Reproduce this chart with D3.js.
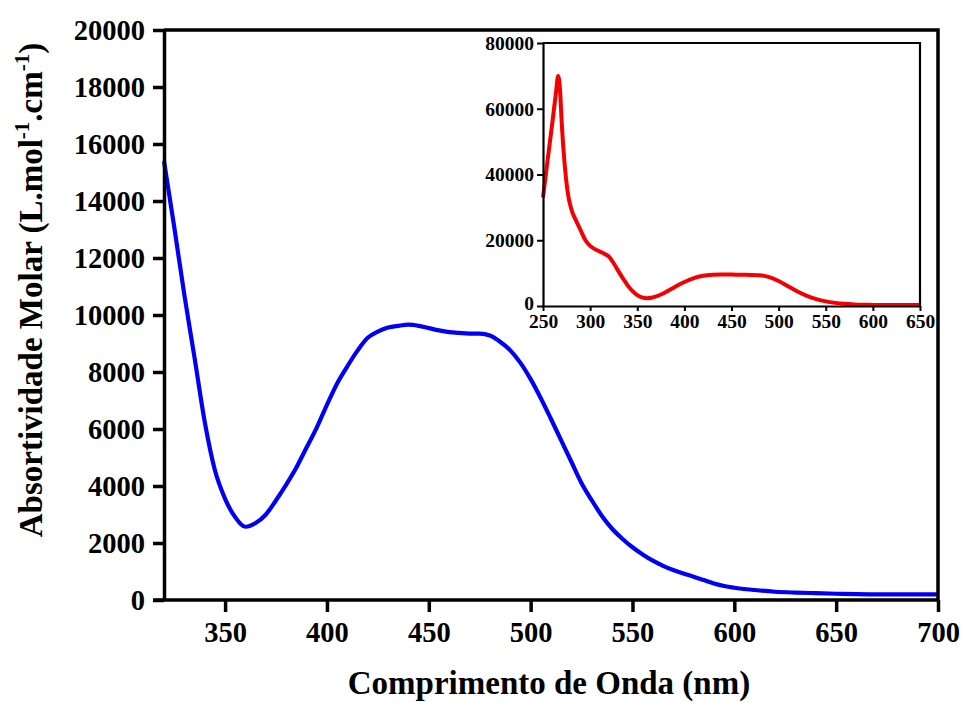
<!DOCTYPE html>
<html>
<head>
<meta charset="utf-8">
<script src="https://cdn.jsdelivr.net/npm/d3@7"></script>
<style>
  html, body { margin: 0; padding: 0; background: #fff; }
  svg { display: block; }
  text { font-family: "Liberation Serif", "Times New Roman", serif; font-weight: bold; fill: #000; }
</style>
</head>
<body>
<svg id="chart" width="963" height="702"></svg>
<script>
// Molar absorptivity spectrum, visible range (nm, L.mol-1.cm-1)
const mainWavelength = [320,325,330,335,340,345,350,355,360,365,370,375,380,385,390,395,400,405,410,415,420,425,430,435,440,445,450,455,460,465,470,475,480,485,490,495,500,505,510,515,520,525,530,535,540,545,550,555,560,565,570,575,580,585,590,595,600,610,620,630,640,650,660,670,680,690,700];
const mainAbsorptivity = [15400,13100,10700,8500,6250,4550,3550,2900,2570,2700,3000,3500,4050,4650,5350,6050,6850,7600,8200,8750,9200,9420,9560,9620,9660,9620,9540,9460,9400,9370,9350,9350,9280,9060,8760,8320,7750,7080,6350,5600,4850,4100,3500,2950,2500,2150,1850,1600,1380,1200,1050,930,820,700,580,490,430,350,290,260,240,220,205,200,200,200,200];

// Full spectrum 250-650 nm shown in the inset
const insetWavelength = [250,255,260,264,266,268,270,273,276,280,285,290,295,300,305,310,315,320,325,330,335,340,345,350,355,360,365,370,375,380,385,390,395,400,410,420,430,440,450,460,470,480,490,500,510,520,530,540,550,560,570,580,590,600,620,650];
const insetAbsorptivity = [33000,44600,56000,65500,70000,66000,55000,43000,35000,29500,26000,23000,20000,18300,17300,16600,15900,15000,13000,10600,8300,6200,4500,3300,2600,2350,2500,2900,3500,4200,5000,5800,6600,7300,8500,9200,9500,9600,9550,9500,9450,9350,8800,7600,6000,4400,3100,2100,1400,950,650,480,380,330,290,280];

const mainXTicks = [350,400,450,500,550,600,650,700];
const mainYTicks = [0,2000,4000,6000,8000,10000,12000,14000,16000,18000,20000];
const insetXTicks = [250,300,350,400,450,500,550,600,650];
const insetYTicks = [0,20000,40000,60000,80000];

const svg = d3.select("#chart");

// ---- main plot ----
const M = { left: 164, right: 938, top: 30, bottom: 600 };
const x = d3.scaleLinear().domain([320, 700]).range([M.left, M.right]);
const y = d3.scaleLinear().domain([0, 20000]).range([M.bottom, M.top]);

const mainLine = d3.line()
  .x((d, i) => x(mainWavelength[i]))
  .y(d => y(d))
  .curve(d3.curveMonotoneX);

svg.append("path")
  .datum(mainAbsorptivity)
  .attr("d", mainLine)
  .attr("fill", "none")
  .attr("stroke", "#0000f5")
  .attr("stroke-width", 4.2)
  .attr("stroke-linejoin", "round");

// frame top and right
svg.append("path")
  .attr("d", `M${M.left},${M.top}H${M.right}V${M.bottom}`)
  .attr("fill", "none").attr("stroke", "#000").attr("stroke-width", 3.5);

const xAxis = svg.append("g")
  .attr("transform", `translate(0,${M.bottom})`)
  .call(d3.axisBottom(x).tickValues(mainXTicks).tickSize(12).tickSizeOuter(0).tickPadding(10).tickFormat(d3.format("d")));
const yAxis = svg.append("g")
  .attr("transform", `translate(${M.left},0)`)
  .call(d3.axisLeft(y).tickValues(mainYTicks).tickSize(11).tickSizeOuter(0).tickPadding(8).tickFormat(d3.format("d")));

[xAxis, yAxis].forEach(g => {
  g.select(".domain").attr("stroke", "#000").attr("stroke-width", 3.5);
  g.selectAll(".tick line").attr("stroke", "#000").attr("stroke-width", 3.5);
  g.selectAll(".tick text").style("font-size", "28.5px").style("font-family", "'Liberation Serif', serif").style("font-weight", "bold");
});
xAxis.select(".domain").attr("d", `M${M.left - 11},0H${M.right}`);

// axis titles
svg.append("text")
  .attr("x", 549)
  .attr("y", 694)
  .attr("text-anchor", "middle")
  .style("font-size", "33px")
  .text("Comprimento de Onda (nm)");

const yTitle = svg.append("text")
  .attr("transform", `translate(42,290) rotate(-90)`)
  .attr("text-anchor", "middle")
  .style("font-size", "33px");
yTitle.append("tspan").text("Absortividade Molar (L.mol");
yTitle.append("tspan").attr("dy", -13).style("font-size", "21px").text("-1");
yTitle.append("tspan").attr("dy", 13).text(".cm");
yTitle.append("tspan").attr("dy", -13).style("font-size", "21px").text("-1");
yTitle.append("tspan").attr("dy", 13).text(")");

// ---- inset ----
const I = { left: 543, right: 920, top: 43, bottom: 306 };
const xi = d3.scaleLinear().domain([250, 650]).range([I.left, I.right]);
const yi = d3.scaleLinear().domain([0, 80000]).range([I.bottom, I.top]);

svg.append("rect")
  .attr("x", I.left).attr("y", I.top)
  .attr("width", I.right - I.left).attr("height", I.bottom - I.top)
  .attr("fill", "#fff");

const insetLine = d3.line()
  .x((d, i) => xi(insetWavelength[i]))
  .y(d => yi(d))
  .curve(d3.curveMonotoneX);

svg.append("path")
  .datum(insetAbsorptivity)
  .attr("d", insetLine)
  .attr("fill", "none")
  .attr("stroke", "#f50000")
  .attr("stroke-width", 4)
  .attr("stroke-linejoin", "round");

svg.append("path")
  .attr("d", `M${I.left},${I.top}H${I.right}V${I.bottom}`)
  .attr("fill", "none").attr("stroke", "#000").attr("stroke-width", 2.2);

const xiAxis = svg.append("g")
  .attr("transform", `translate(0,${I.bottom})`)
  .call(d3.axisBottom(xi).tickValues(insetXTicks).tickSize(5).tickSizeOuter(0).tickPadding(3).tickFormat(d3.format("d")));
const yiAxis = svg.append("g")
  .attr("transform", `translate(${I.left},0)`)
  .call(d3.axisLeft(yi).tickValues(insetYTicks).tickSize(6).tickSizeOuter(0).tickPadding(3).tickFormat(d3.format("d")));

[xiAxis, yiAxis].forEach(g => {
  g.select(".domain").attr("stroke", "#000").attr("stroke-width", 2.2);
  g.selectAll(".tick line").attr("stroke", "#000").attr("stroke-width", 2);
  g.selectAll(".tick text").style("font-size", "19.5px").style("font-family", "'Liberation Serif', serif").style("font-weight", "bold");
});
// keep the bottom-left labels of the inset apart
yiAxis.selectAll(".tick text").filter(d => d === 0).attr("dy", "0.2em");
</script>
</body>
</html>
